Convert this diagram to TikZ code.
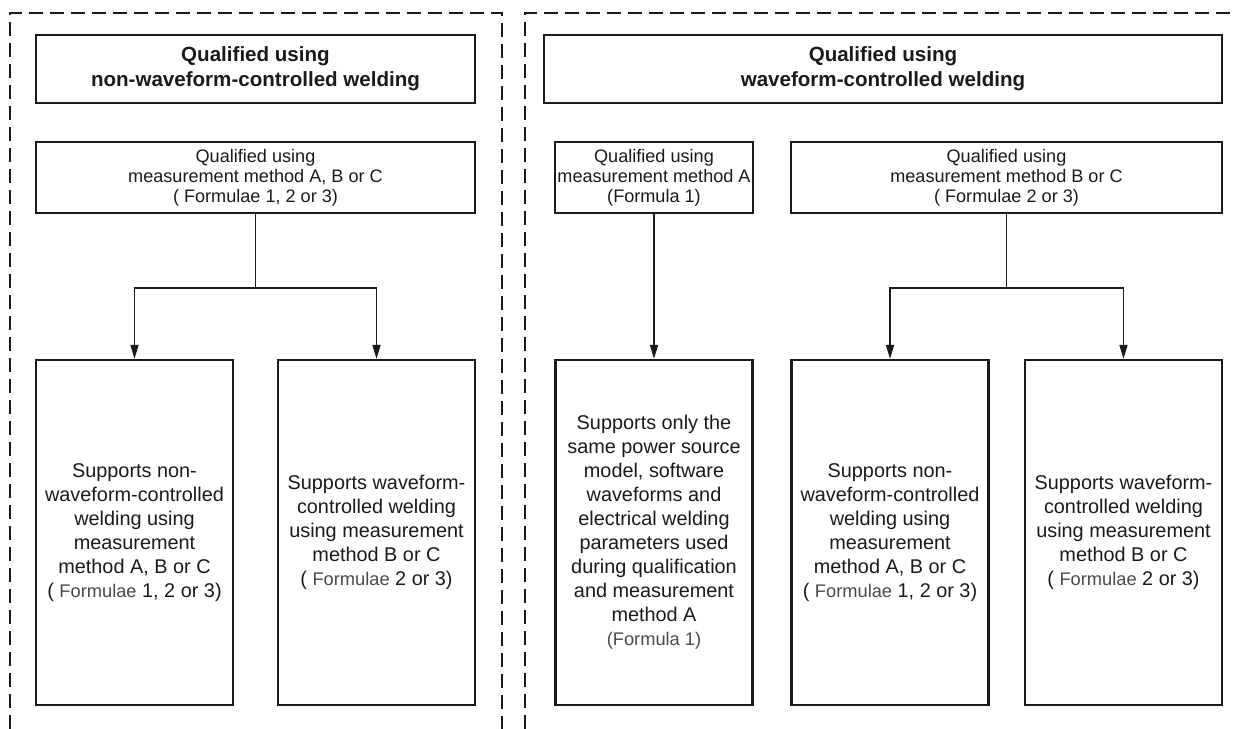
\documentclass[tikz,border=0pt]{standalone}
\usepackage{fontspec}
\setmainfont{Liberation Sans}
\usetikzlibrary{arrows.meta}
\definecolor{ink}{HTML}{1A1A1A}
\definecolor{softink}{HTML}{4A4A4A}
\newcommand{\fml}[1]{{\color{softink}\fontsize{10.4}{13.66}\selectfont #1}}

\begin{document}
\begin{tikzpicture}[
  % Box styles
  box/.style={
    rectangle,
    draw=ink,
    line width=1.3pt,
    align=center,
    inner sep=1pt,
    text=ink,
  },
  title box/.style={
    box,
    minimum height=1.36cm,
    font=\fontsize{11.7}{14.2}\selectfont\bfseries,
  },
  method box/.style={
    box,
    minimum height=1.42cm,
    font=\fontsize{10.3}{11.4}\selectfont,
  },
  result box/.style={
    box,
    minimum width=3.94cm,
    minimum height=6.9cm,
    font=\fontsize{11.3}{13.66}\selectfont,
  },
  % Connector styles
  link/.style={
    draw=ink,
    line width=1pt,
  },
  arrow/.style={
    link,
    -{Triangle[length=0.28cm, width=0.16cm]},
  },
  frame/.style={
    draw=ink,
    line width=0.75pt,
    dash pattern=on 0.28cm off 0.14cm,
  },
]

  % Picture size
  \useasboundingbox (0,0) rectangle (24.7,-14.58);

  % Row positions (plain numbers, in cm)
  \pgfmathsetmacro{\titleY}{-1.38}   % title boxes
  \pgfmathsetmacro{\methodY}{-3.55}  % method boxes
  \pgfmathsetmacro{\splitY}{-5.76}   % where the connectors branch
  \pgfmathsetmacro{\resultY}{-10.65} % result boxes

  % Dashed frames (open at the bottom)
  \draw[frame] (0.2,-14.58) |- (10.04,-0.26) -- (10.04,-14.58);
  \draw[frame] (10.5,-14.58) |- (24.7,-0.26);

  % Title boxes
  \node[title box, minimum width=8.78cm] (titleL) at (5.11,\titleY) {Qualified using\\non-waveform-controlled welding};
  \node[title box, minimum width=13.56cm] (titleR) at (17.66,\titleY) {Qualified using\\waveform-controlled welding};

  % Method boxes
  \node[method box, minimum width=8.78cm] (methL) at (5.11,\methodY) {Qualified using\\measurement method A, B or C\\( Formulae 1, 2 or 3)};
  \node[method box, minimum width=3.96cm] (methA) at (13.08,\methodY) {Qualified using\\measurement method A\\(Formula 1)};
  \node[method box, minimum width=8.62cm] (methBC) at (20.13,\methodY) {Qualified using\\measurement method B or C\\( Formulae 2 or 3)};

  % Result boxes
  \node[result box] (resL1) at (2.69,\resultY) {Supports non-\\waveform-controlled\\welding using\\measurement\\method A, B or C\\( \fml{Formulae} 1, 2 or 3)};
  \node[result box] (resL2) at (7.53,\resultY) {Supports waveform-\\controlled welding\\using measurement\\method B or C\\( \fml{Formulae} 2 or 3)};
  \node[result box] (resR1) at (13.08,\resultY) {Supports only the\\same power source\\model, software\\waveforms and\\electrical welding\\parameters used\\during qualification\\and measurement\\method A\\\fml{(Formula 1)}};
  \node[result box] (resR2) at (17.8,\resultY) {Supports non-\\waveform-controlled\\welding using\\measurement\\method A, B or C\\( \fml{Formulae} 1, 2 or 3)};
  \node[result box] (resR3) at (22.47,\resultY) {Supports waveform-\\controlled welding\\using measurement\\method B or C\\( \fml{Formulae} 2 or 3)};

  % Branch points
  \coordinate (splitL) at (5.11,\splitY);
  \coordinate (splitR) at (20.13,\splitY);

  % Connectors: left frame
  \draw[link] (methL.south) -- (splitL);
  \draw[arrow] (splitL) -| (resL1.north);
  \draw[arrow] (splitL) -| (resL2.north);

  % Connectors: right frame
  \draw[arrow] (methA.south) -- (resR1.north);
  \draw[link] (methBC.south) -- (splitR);
  \draw[arrow] (splitR) -| (resR2.north);
  \draw[arrow] (splitR) -| (resR3.north);

\end{tikzpicture}
\end{document}
